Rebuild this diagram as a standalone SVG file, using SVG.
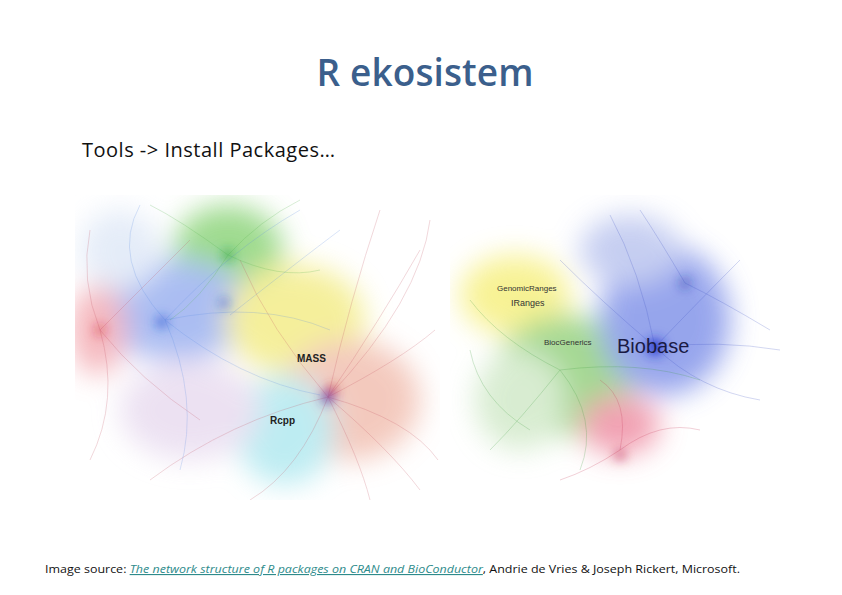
<svg xmlns="http://www.w3.org/2000/svg" width="842" height="595" viewBox="0 0 842 595">
<style>
.t{font-family:"Open Sans","Liberation Sans",sans-serif}
.lab{font-family:"Liberation Sans",Arial,sans-serif;font-weight:bold;fill:#222}
.e{fill:none;stroke-width:0.5;opacity:0.45}
</style>
<defs>
<filter id="b" x="-50%" y="-50%" width="200%" height="200%"><feGaussianBlur stdDeviation="14"/></filter>
<filter id="b2" x="-50%" y="-50%" width="200%" height="200%"><feGaussianBlur stdDeviation="6"/></filter>
<clipPath id="c1"><rect x="75" y="195" width="365" height="305"/></clipPath>
<clipPath id="c2"><rect x="450" y="195" width="340" height="290"/></clipPath>
</defs>
<rect width="842" height="595" fill="#fff"/>
<text class="t" x="425" y="86" text-anchor="middle" font-size="37" font-weight="600" fill="#3b5f8c" textLength="217">R ekosistem</text>
<text class="t" x="82" y="157" font-size="20" font-weight="500" fill="#111" textLength="253">Tools -&gt; Install Packages…</text>

<g id="cran" clip-path="url(#c1)">
<g filter="url(#b)" opacity="0.75">
<ellipse cx="228" cy="250" rx="55" ry="45" fill="#7fcf6a"/>
<ellipse cx="175" cy="310" rx="80" ry="50" fill="#8fa8ee"/>
<ellipse cx="295" cy="320" rx="70" ry="55" fill="#f2ea7a"/>
<ellipse cx="98" cy="330" rx="28" ry="45" fill="#f2a0a8"/>
<ellipse cx="350" cy="400" rx="70" ry="60" fill="#f0b8a8"/>
<ellipse cx="285" cy="430" rx="50" ry="55" fill="#a8e6ee"/>
<ellipse cx="190" cy="410" rx="70" ry="50" fill="#e6d8ee"/>
<ellipse cx="120" cy="250" rx="40" ry="40" fill="#dce6f6"/>
</g>
<g class="e" stroke="#c05060">
<path d="M328 397 Q380 320 420 250"/><path d="M328 397 Q400 360 435 330"/><path d="M328 397 Q410 420 438 460"/><path d="M328 397 Q360 460 370 500"/><path d="M328 397 Q300 470 250 500"/><path d="M328 397 Q270 330 240 260"/><path d="M328 397 Q420 300 430 220"/><path d="M328 397 Q230 420 150 480"/><path d="M328 397 Q390 450 420 490"/><path d="M328 397 Q350 300 380 210"/>
<path d="M100 330 Q80 280 90 230"/><path d="M100 330 Q120 400 90 460"/><path d="M100 330 Q150 280 190 240"/><path d="M100 330 Q140 380 200 420"/>
</g>
<g class="e" stroke="#5a8be0">
<path d="M165 320 Q230 250 300 210"/><path d="M165 320 Q240 380 320 395"/><path d="M165 320 Q110 260 140 205"/><path d="M165 320 Q200 400 180 470"/><path d="M165 320 Q260 300 330 330"/><path d="M230 315 Q300 260 340 230"/>
</g>
<g class="e" stroke="#52b04a">
<path d="M228 255 Q260 220 300 200"/><path d="M228 255 Q180 220 150 205"/><path d="M228 255 Q280 280 320 270"/><path d="M228 255 Q200 300 170 320"/>
</g>
<g filter="url(#b2)">
<circle cx="328" cy="397" r="6" fill="#2233aa"/><circle cx="332" cy="390" r="5" fill="#d03020"/>
<circle cx="228" cy="255" r="5" fill="#20a030"/><circle cx="162" cy="322" r="5" fill="#2050d0"/><circle cx="224" cy="303" r="4" fill="#2050d0"/>
<circle cx="100" cy="330" r="4" fill="#d02030"/>
</g>
<text class="lab" x="297" y="362" font-size="10">MASS</text>
<text class="lab" x="270" y="424" font-size="10">Rcpp</text>
</g>

<g id="bioc" clip-path="url(#c2)">
<g filter="url(#b)" opacity="0.8">
<ellipse cx="515" cy="295" rx="55" ry="40" fill="#f6ef7a"/>
<ellipse cx="565" cy="375" rx="70" ry="60" fill="#8fcf78"/>
<ellipse cx="665" cy="320" rx="65" ry="75" fill="#7d8fe8"/>
<ellipse cx="620" cy="425" rx="40" ry="30" fill="#ee8aa0"/>
<ellipse cx="520" cy="400" rx="45" ry="50" fill="#cfe8c6"/>
<ellipse cx="630" cy="250" rx="50" ry="35" fill="#b8c2ee"/>
</g>
<g class="e" stroke="#3a4fc0">
<path d="M655 347 Q700 300 740 260"/><path d="M655 347 Q700 390 760 400"/><path d="M655 347 Q640 270 610 215"/><path d="M685 283 Q720 300 770 330"/><path d="M655 347 Q600 300 560 260"/><path d="M655 347 Q720 340 780 350"/><path d="M685 283 Q660 240 640 210"/>
</g>
<g class="e" stroke="#3a9a3a">
<path d="M560 370 Q520 420 490 450"/><path d="M560 370 Q500 340 470 300"/><path d="M560 370 Q600 420 580 470"/><path d="M530 430 Q480 400 470 350"/><path d="M560 370 Q640 360 700 380"/>
</g>
<g class="e" stroke="#c03050">
<path d="M620 450 Q590 470 560 480"/><path d="M620 450 Q660 420 700 430"/><path d="M620 450 Q630 400 600 380"/>
</g>
<g filter="url(#b2)"><circle cx="655" cy="347" r="8" fill="#2030d0"/><circle cx="685" cy="283" r="4" fill="#2030a0"/><circle cx="620" cy="455" r="4" fill="#b01030"/></g>
<text x="497" y="291" font-family="Liberation Sans,Arial,sans-serif" font-size="8" fill="#333">GenomicRanges</text>
<text x="511" y="306" font-family="Liberation Sans,Arial,sans-serif" font-size="9" fill="#333">IRanges</text>
<text x="544" y="345" font-family="Liberation Sans,Arial,sans-serif" font-size="8" fill="#333">BiocGenerics</text>
<text x="617" y="353" font-family="Liberation Sans,Arial,sans-serif" font-size="20" fill="#1a1a44">Biobase</text>
</g>

<text class="t" x="45" y="573" font-size="11.2" fill="#111" textLength="695" lengthAdjust="spacingAndGlyphs">Image source: <tspan fill="#2e8b8b" text-decoration="underline" font-style="italic">The network structure of R packages on CRAN and BioConductor</tspan>, Andrie de Vries &amp; Joseph Rickert, Microsoft.</text>
</svg>
